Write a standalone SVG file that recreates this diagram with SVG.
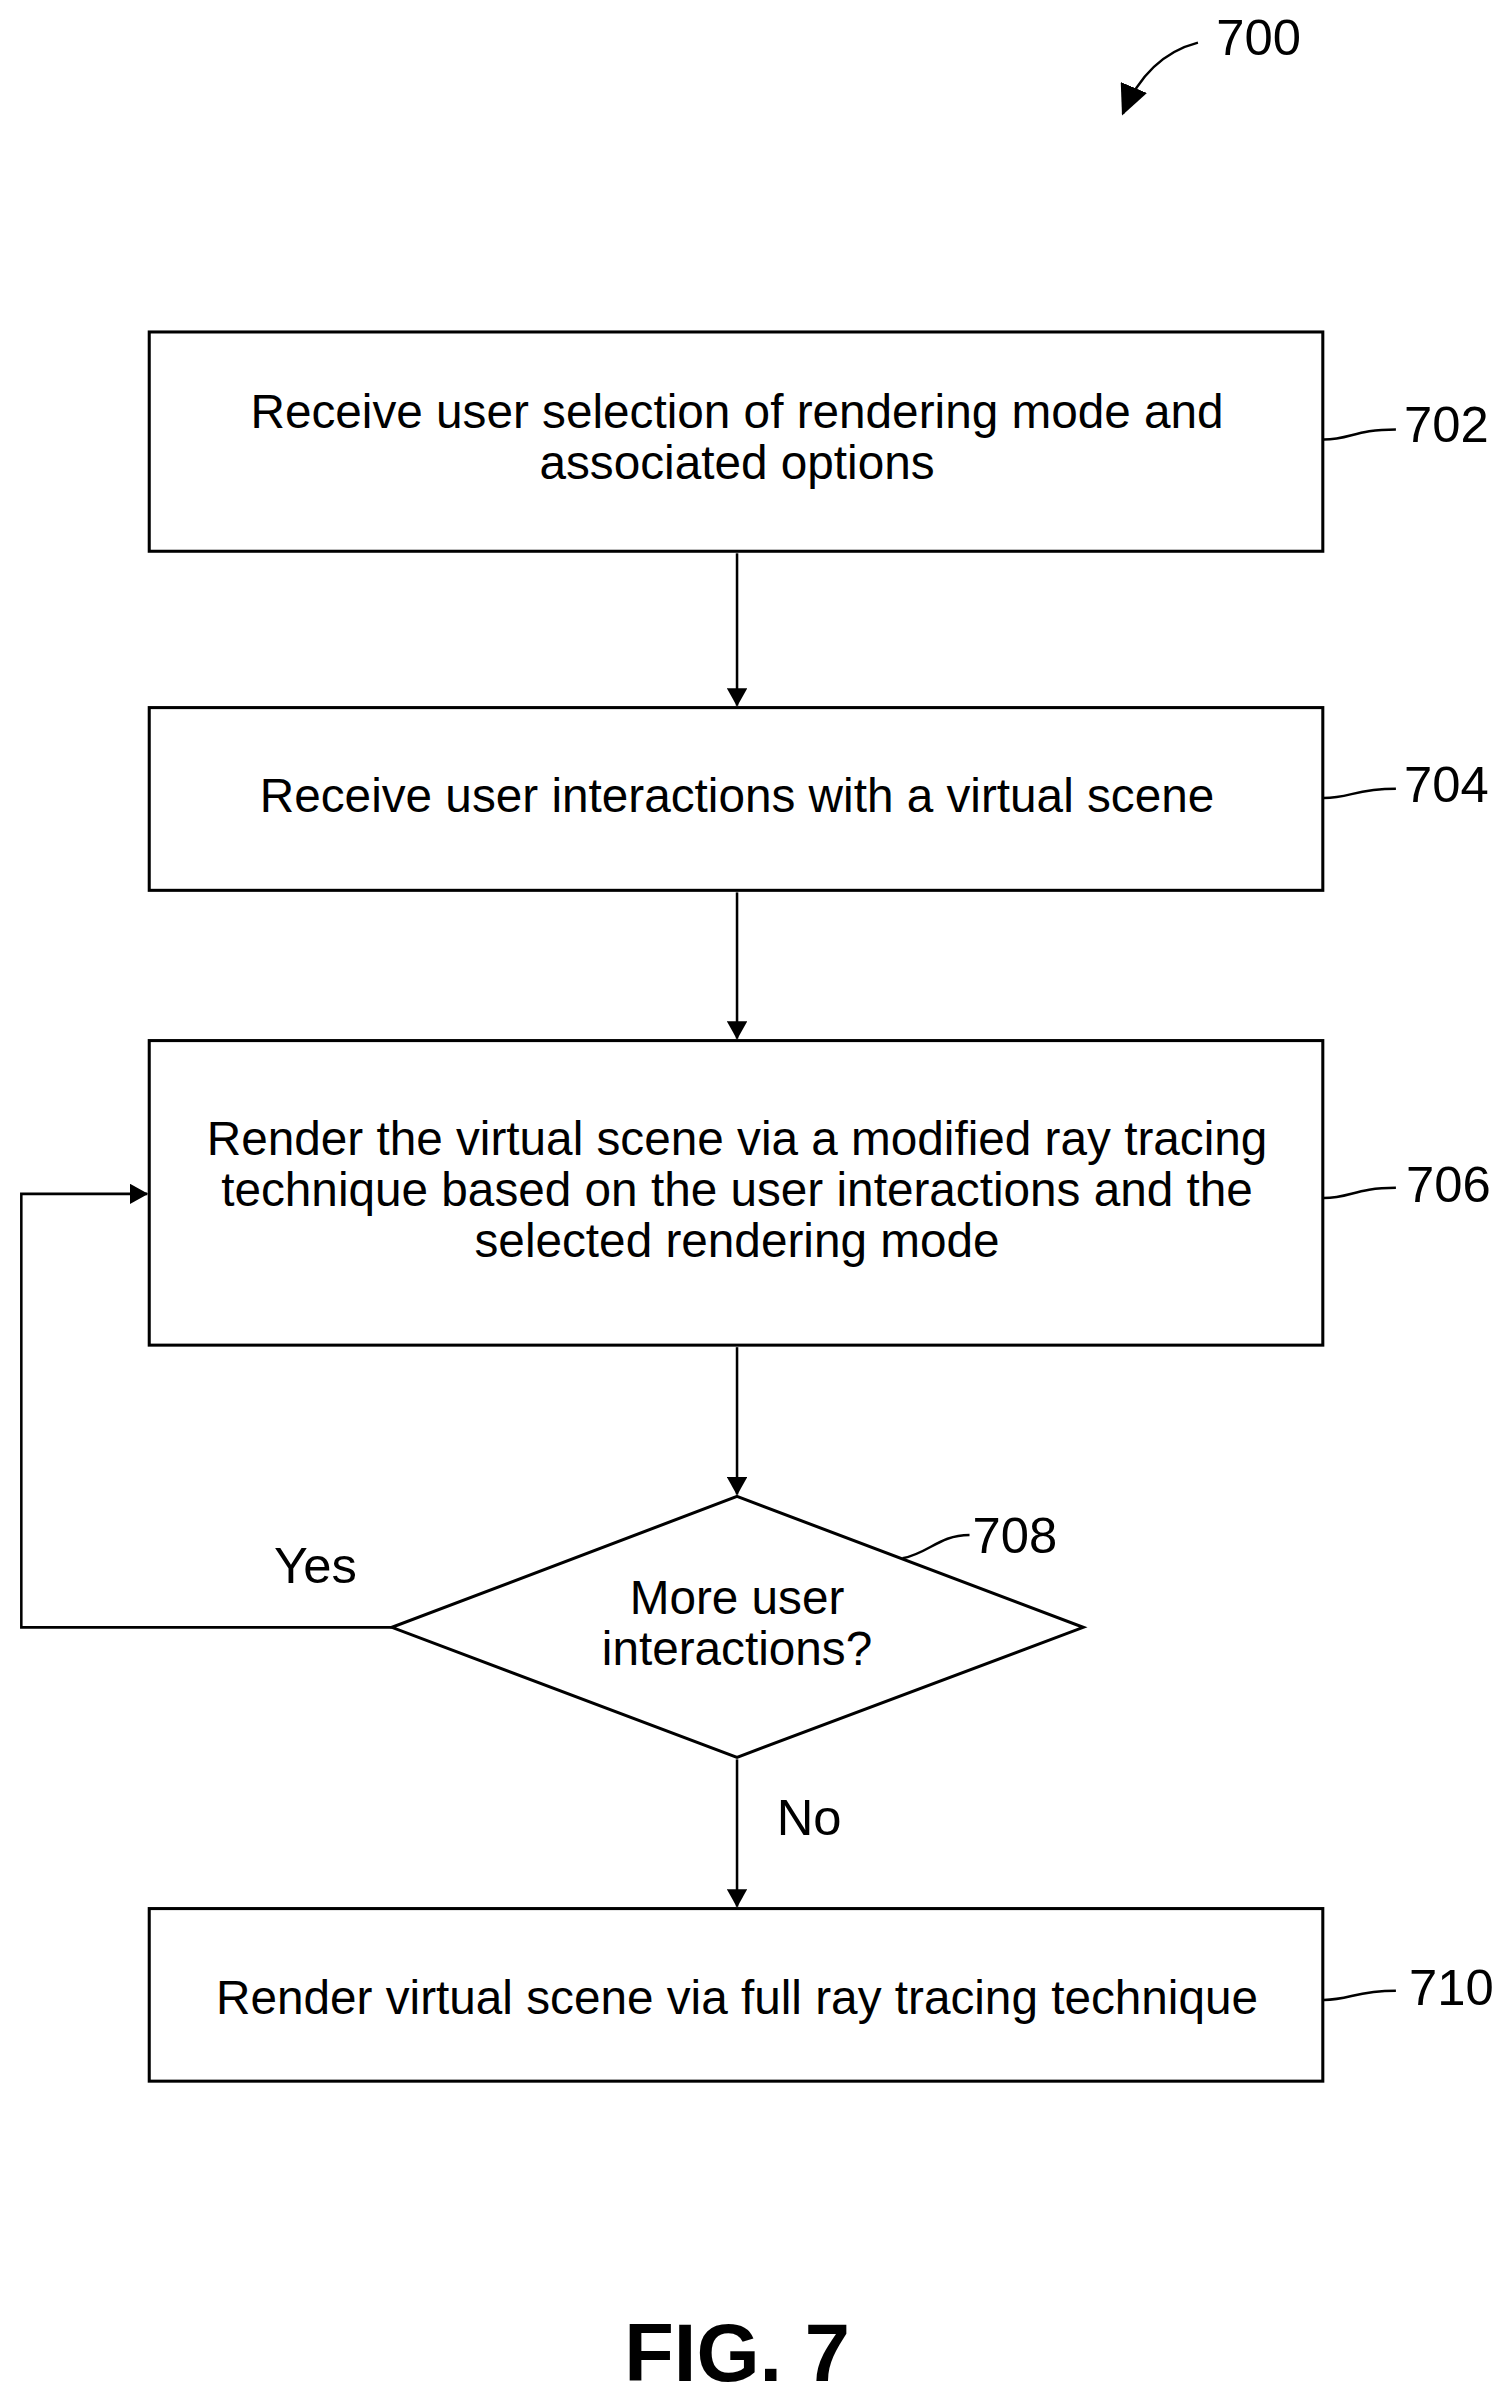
<svg xmlns="http://www.w3.org/2000/svg" width="1512" height="2404" viewBox="0 0 1512 2404">
<style>
.b{fill:#fff;stroke:#000;stroke-width:3}
.t{font-family:"Liberation Sans",Arial,sans-serif;font-size:47px;text-anchor:middle;fill:#000}
.r{font-family:"Liberation Sans",Arial,sans-serif;font-size:50px;fill:#000}
.c{fill:none;stroke:#000;stroke-width:2.5}
.l{fill:none;stroke:#000;stroke-width:2.5}
</style>
<defs>
<marker id="a" markerWidth="18" markerHeight="20" refX="17" refY="10" orient="auto" markerUnits="userSpaceOnUse" viewBox="0 0 18 20"><path d="M0,0 L18,10 L0,20 z" fill="#000"/></marker>
<marker id="ah" markerWidth="30" markerHeight="28" refX="28" refY="14" orient="auto" markerUnits="userSpaceOnUse" viewBox="0 0 30 28"><path d="M0,0 L30,14 L0,28 z" fill="#000"/></marker>
</defs>
<rect width="1512" height="2404" fill="#fff"/>
<g transform="scale(1.0152)">
<g id="ref700">
<text class="r" x="1198" y="54">700</text>
<path class="l" d="M1180,42 Q1130,55 1106,112" marker-end="url(#ah)"/>
</g>
<g id="n702">
<rect class="b" x="147" y="327" width="1156" height="216"/>
<text class="t" x="726" y="422">Receive user selection of rendering mode and</text>
<text class="t" x="726" y="472">associated options</text>
<path class="l" d="M1304,433 C1330,433 1335,423 1375,423"/>
<text class="r" x="1383" y="435">702</text>
</g>
<g id="n704">
<rect class="b" x="147" y="697" width="1156" height="180"/>
<text class="t" x="726" y="800">Receive user interactions with a virtual scene</text>
<path class="l" d="M1304,786 C1330,786 1335,777 1375,777"/>
<text class="r" x="1383" y="790">704</text>
</g>
<g id="n706">
<rect class="b" x="147" y="1025" width="1156" height="300"/>
<text class="t" x="726" y="1138">Render the virtual scene via a modified ray tracing</text>
<text class="t" x="726" y="1188">technique based on the user interactions and the</text>
<text class="t" x="726" y="1238">selected rendering mode</text>
<path class="l" d="M1304,1180 C1330,1180 1335,1170 1375,1170"/>
<text class="r" x="1385" y="1184">706</text>
</g>
<g id="n708">
<polygon class="b" points="726,1474 1067,1603 726,1731 386,1603"/>
<text class="t" x="726" y="1590">More user</text>
<text class="t" x="726" y="1640">interactions?</text>
<path class="l" d="M889,1535 C915,1530 925,1512 955,1512"/>
<text class="r" x="958" y="1530">708</text>
</g>
<g id="n710">
<rect class="b" x="147" y="1880" width="1156" height="170"/>
<text class="t" x="726" y="1984">Render virtual scene via full ray tracing technique</text>
<path class="l" d="M1304,1970 C1330,1970 1335,1961 1375,1961"/>
<text class="r" x="1388" y="1975">710</text>
</g>
<g id="connectors">
<line class="c" x1="726" y1="545" x2="726" y2="695" marker-end="url(#a)"/>
<line class="c" x1="726" y1="879" x2="726" y2="1023" marker-end="url(#a)"/>
<line class="c" x1="726" y1="1327" x2="726" y2="1472" marker-end="url(#a)"/>
<line class="c" x1="726" y1="1733" x2="726" y2="1878" marker-end="url(#a)"/>
<polyline class="c" points="386,1603 21,1603 21,1176 145,1176" marker-end="url(#a)"/>
<text class="r" x="270" y="1559">Yes</text>
<text class="r" x="765" y="1808">No</text>
</g>
<text x="726" y="2345" font-family="Liberation Sans,Arial,sans-serif" font-size="80" font-weight="bold" text-anchor="middle">FIG. 7</text>
</g>
</svg>
